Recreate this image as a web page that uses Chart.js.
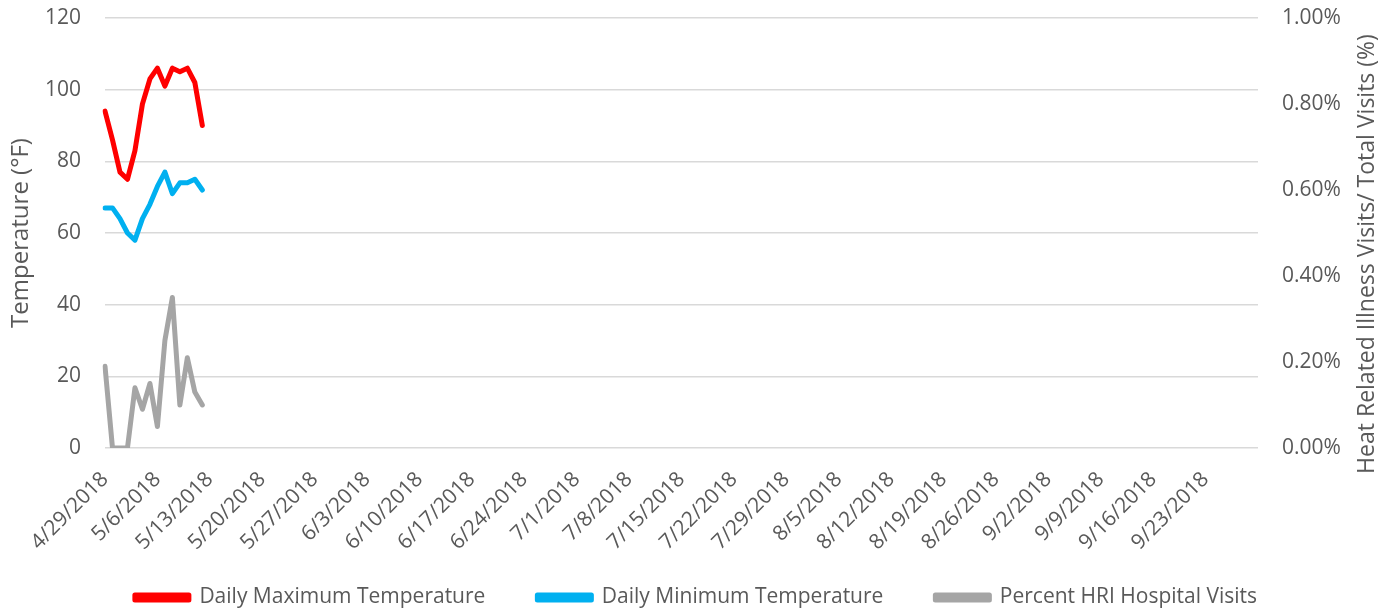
<!DOCTYPE html>
<html>
<head>
<meta charset="utf-8">
<script src="https://cdn.jsdelivr.net/npm/chart.js@4/dist/chart.umd.min.js"></script>
<style>
  html, body { margin: 0; padding: 0; background: #fff; }
  #wrap { width: 1392px; height: 612px; }
</style>
</head>
<body>
<div id="wrap"><canvas id="chart"></canvas></div>
<script>
// Daily values, starting 4/29/2018
const maxTemps = [94, 86, 77, 75, 83, 96, 103, 106, 101, 106, 105, 106, 102, 90];
const minTemps = [67, 67, 64, 60, 58, 64, 68, 73, 77, 71, 74, 74, 75, 72];
const hriPercent = [0.19, 0, 0, 0, 0.14, 0.09, 0.15, 0.05, 0.25, 0.35, 0.10, 0.21, 0.13, 0.10];

// Weekly tick labels along the date axis
const weekLabels = ['4/29/2018', '5/6/2018', '5/13/2018', '5/20/2018', '5/27/2018', '6/3/2018',
  '6/10/2018', '6/17/2018', '6/24/2018', '7/1/2018', '7/8/2018', '7/15/2018', '7/22/2018',
  '7/29/2018', '8/5/2018', '8/12/2018', '8/19/2018', '8/26/2018', '9/2/2018', '9/9/2018',
  '9/16/2018', '9/23/2018'];

const seriesNames = ['Daily Maximum Temperature', 'Daily Minimum Temperature', 'Percent HRI Hospital Visits'];
const leftTitle = 'Temperature (°F)';
const rightTitle = 'Heat Related Illness Visits/ Total Visits (%)';

// one category per day, 4/29/2018 .. 9/30/2018
const days = [];
const start = new Date(2018, 3, 29);
for (let i = 0; i < 155; i++) {
  const d = new Date(start);
  d.setDate(start.getDate() + i);
  days.push((d.getMonth() + 1) + '/' + d.getDate() + '/' + d.getFullYear());
}

const FONT = 'Open Sans';
const TEXT = '#595959';
const SIZE = 21;

// right title reads bottom-to-top, so draw it by hand
const rightTitlePlugin = {
  id: 'rightTitle',
  afterLayout(chart) {
    // let the rotated date labels run past the x axis box instead of being clipped
    chart.scales.x.bottom = chart.height;
  },
  afterDraw(chart) {
    const ctx = chart.ctx;
    const area = chart.chartArea;
    ctx.save();
    ctx.translate(1367, (area.top + area.bottom) / 2 + 21);
    ctx.rotate(-Math.PI / 2);
    ctx.font = '23px "' + FONT + '"';
    ctx.fillStyle = TEXT;
    ctx.textAlign = 'center';
    ctx.textBaseline = 'middle';
    ctx.fillText(rightTitle, 0, 0);
    ctx.restore();
  }
};

const lineStyle = {
  borderWidth: 5,
  pointRadius: 0,
  tension: 0,
  borderJoinStyle: 'round',
  borderCapStyle: 'round',
  fill: false
};

new Chart(document.getElementById('chart'), {
  type: 'line',
  data: {
    labels: days,
    datasets: [
      { ...lineStyle, label: seriesNames[0], data: maxTemps, borderColor: '#FF0000', backgroundColor: '#FF0000', yAxisID: 'y' },
      { ...lineStyle, label: seriesNames[1], data: minTemps, borderColor: '#00B0F0', backgroundColor: '#00B0F0', yAxisID: 'y' },
      { ...lineStyle, label: seriesNames[2], data: hriPercent, borderColor: '#A5A5A5', backgroundColor: '#A5A5A5', yAxisID: 'y1' }
    ]
  },
  options: {
    responsive: true,
    maintainAspectRatio: false,
    animation: false,
    layout: { padding: { top: 18, left: 0, right: 0, bottom: 0 } },
    plugins: {
      legend: {
        position: 'bottom',
        maxHeight: 77,
        labels: {
          color: TEXT,
          font: { family: FONT, size: SIZE },
          boxWidth: 54,
          boxHeight: 5,
          padding: 52
        }
      },
      tooltip: { enabled: false }
    },
    scales: {
      x: {
        offset: false,
        grid: { display: false },
        border: { display: false },
        ticks: {
          autoSkip: false,
          maxRotation: 45,
          minRotation: 45,
          padding: 11,
          color: TEXT,
          font: { family: FONT, size: SIZE },
          callback: function(value, index) {
            return index % 7 === 0 ? weekLabels[index / 7] : '';
          }
        },
        afterFit: function(scale) { scale.height = 87; }
      },
      y: {
        position: 'left',
        min: 0,
        max: 120,
        ticks: {
          stepSize: 20,
          padding: 0,
          color: TEXT,
          font: { family: FONT, size: SIZE }
        },
        grid: { color: '#D9D9D9', lineWidth: 1.5, drawTicks: true, tickLength: 24, tickColor: 'rgba(0,0,0,0)' },
        border: { display: false },
        title: {
          display: true,
          text: leftTitle,
          color: TEXT,
          font: { family: FONT, size: 24 },
          padding: { top: 7, bottom: 0 }
        },
        afterFit: function(scale) { scale.width = 105; }
      },
      y1: {
        position: 'right',
        min: 0,
        max: 1,
        ticks: {
          stepSize: 0.2,
          padding: 0,
          color: TEXT,
          font: { family: FONT, size: SIZE },
          callback: function(value) { return value.toFixed(2) + '%'; }
        },
        grid: { drawOnChartArea: false, drawTicks: true, tickLength: 24, tickColor: 'rgba(0,0,0,0)' },
        border: { display: false },
        afterFit: function(scale) { scale.width = 134; }
      }
    }
  },
  plugins: [rightTitlePlugin]
});
</script>
</body>
</html>
